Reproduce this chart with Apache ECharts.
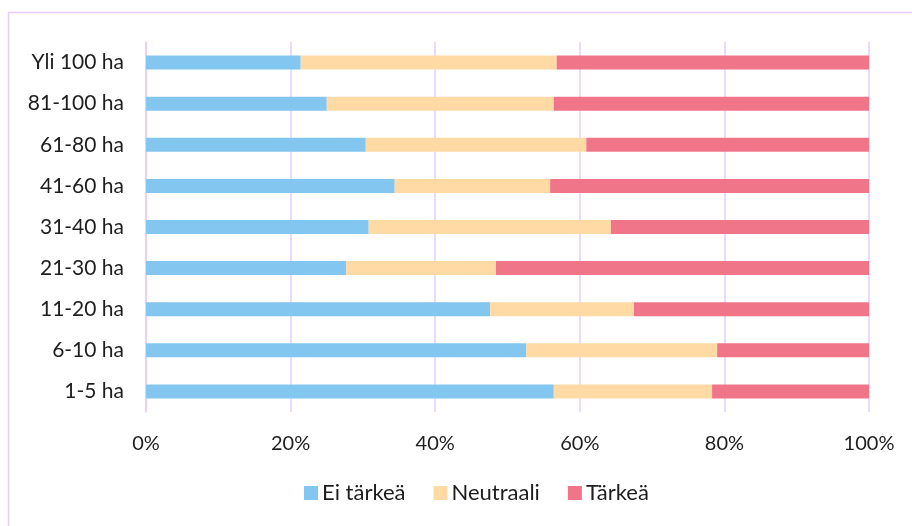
<!DOCTYPE html>
<html>
<head>
<meta charset="utf-8">
<script src="https://cdn.jsdelivr.net/npm/echarts@6/dist/echarts.min.js"></script>
<style>
  html, body { margin: 0; padding: 0; background: #fff; }
  #chart { width: 912px; height: 526px; }
</style>
</head>
<body>
<div id="chart"></div>
<script>
  // kokoluokat alhaalta ylös
  const categories = ['1-5 ha', '6-10 ha', '11-20 ha', '21-30 ha', '31-40 ha', '41-60 ha', '61-80 ha', '81-100 ha', 'Yli 100 ha']
  const eiTarkea = [56.4, 52.6, 47.6, 27.7, 30.8, 34.4, 30.4, 25.0, 21.4]
  const neutraali = [21.9, 26.4, 19.9, 20.7, 33.5, 21.5, 30.5, 31.4, 35.4]
  const tarkea = [21.7, 21.0, 32.5, 51.6, 35.7, 44.1, 39.1, 43.6, 43.2]
  const xTicks = [0, 20, 40, 60, 80, 100]

  const font = 'Lato, "Open Sans", sans-serif'
  const gridColor = '#E6CCFF'
  const textColor = '#1E1E1E'

  const bar = (name, data, color) => ({
    name: name,
    type: 'bar',
    stack: 'total',
    data: data,
    barWidth: 14,
    itemStyle: { color: color },
    emphasis: { disabled: true }
  })

  const chart = echarts.init(document.getElementById('chart'))
  chart.setOption({
    animation: false,
    textStyle: { fontFamily: font },
    graphic: [{
      type: 'rect',
      shape: { x: 8.5, y: 12.5, width: 920, height: 530 },
      style: { fill: 'none', stroke: gridColor, lineWidth: 1.5 },
      silent: true
    }],
    grid: { left: 146, right: 43, top: 42, bottom: 114 },
    legend: {
      bottom: 17,
      left: 299,
      itemWidth: 14,
      itemHeight: 14,
      itemGap: 28,
      icon: 'rect',
      textStyle: { fontFamily: font, fontSize: 22, color: textColor, padding: [0, 0, 0, -1] },
      data: ['Ei tärkeä', 'Neutraali', 'Tärkeä']
    },
    xAxis: {
      type: 'value',
      min: xTicks[0],
      max: xTicks[xTicks.length - 1],
      interval: 20,
      axisLine: { show: false },
      axisTick: { show: false },
      splitLine: { lineStyle: { color: gridColor, width: 1.5 } },
      axisLabel: {
        formatter: '{value}%',
        fontFamily: font,
        fontSize: 20,
        color: textColor,
        margin: 22
      }
    },
    yAxis: {
      type: 'category',
      data: categories,
      axisLine: { show: true, lineStyle: { color: gridColor, width: 1.5 } },
      axisTick: { show: false },
      axisLabel: {
        fontFamily: font,
        fontSize: 21,
        color: textColor,
        margin: 22
      }
    },
    series: [
      bar('Ei tärkeä', eiTarkea, '#83C7F0'),
      bar('Neutraali', neutraali, '#FFDAA4'),
      bar('Tärkeä', tarkea, '#F07588')
    ]
  })
</script>
</body>
</html>
